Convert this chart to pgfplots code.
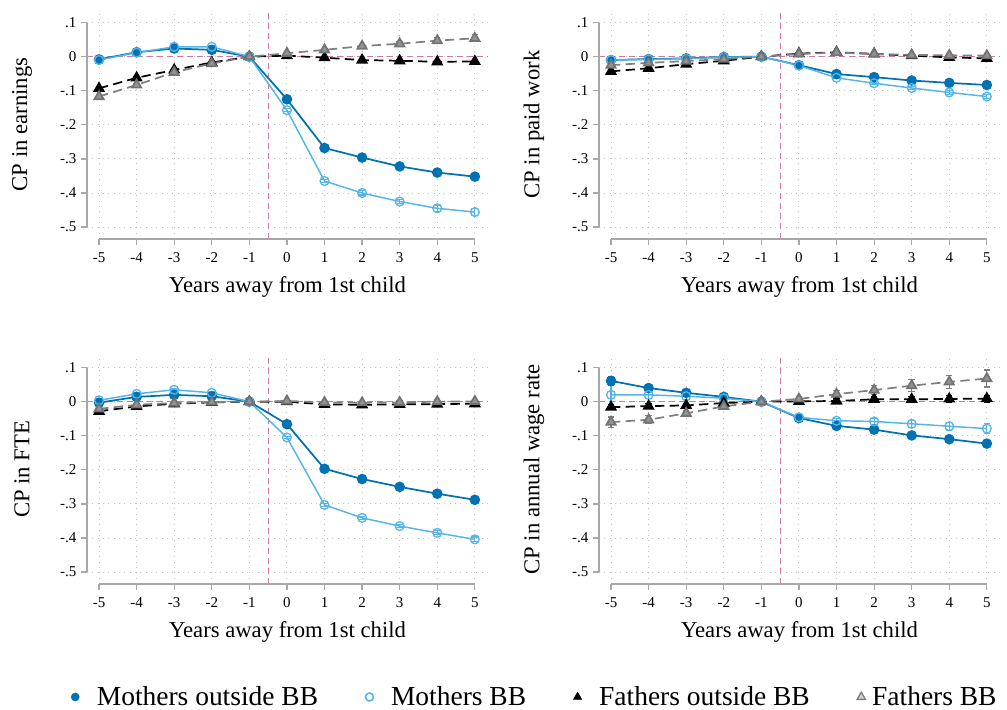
\documentclass[border=0pt]{standalone}
\usepackage{fontspec}
\setmainfont{Liberation Serif}
\usepackage{pgfplots}
\usepackage{pgfplotstable}
\pgfplotsset{compat=1.18}

\definecolor{mdark}{HTML}{0072B2}
\definecolor{mlight}{HTML}{56B4E9}
\definecolor{fgray}{HTML}{808080}
\definecolor{refpink}{HTML}{CC79A7}
\definecolor{spinegray}{HTML}{A8A8A8}
\definecolor{gridgray}{HTML}{C4C4C4}

% columns: mothers outside BB, mothers BB, fathers outside BB, fathers BB (value, CI half-width)
\pgfplotstableread{
x  mo     moe   mb     mbe   fo     foe   fb     fbe
-5 -0.008 0.006 -0.010 0.010 -0.093 0.005 -0.117 0.006
-4  0.013 0.004  0.012 0.006 -0.062 0.004 -0.083 0.005
-3  0.024 0.004  0.029 0.005 -0.039 0.004 -0.046 0.004
-2  0.020 0.003  0.029 0.004 -0.017 0.003 -0.020 0.003
-1  0     0      0     0      0     0      0     0
 0 -0.125 0.003 -0.157 0.004  0.003 0.003  0.010 0.004
 1 -0.268 0.004 -0.365 0.005 -0.003 0.003  0.020 0.005
 2 -0.296 0.004 -0.400 0.006 -0.010 0.004  0.031 0.006
 3 -0.322 0.005 -0.425 0.007 -0.012 0.004  0.038 0.007
 4 -0.340 0.005 -0.445 0.008 -0.015 0.005  0.047 0.008
 5 -0.352 0.006 -0.456 0.010 -0.014 0.005  0.054 0.010
}\earnings

\pgfplotstableread{
x  mo     moe   mb     mbe   fo     foe   fb     fbe
-5 -0.010 0.002 -0.010 0.003 -0.043 0.003 -0.025 0.004
-4 -0.007 0.002 -0.008 0.003 -0.034 0.003 -0.018 0.003
-3 -0.005 0.002 -0.006 0.002 -0.022 0.002 -0.013 0.003
-2 -0.001 0.002 -0.002 0.002 -0.012 0.002 -0.007 0.002
-1  0     0      0     0      0     0      0     0
 0 -0.025 0.002 -0.026 0.003  0.009 0.002  0.008 0.003
 1 -0.051 0.002 -0.062 0.003  0.013 0.002  0.012 0.003
 2 -0.060 0.002 -0.078 0.003  0.008 0.002  0.008 0.003
 3 -0.070 0.003 -0.092 0.004  0.003 0.003  0.005 0.004
 4 -0.077 0.003 -0.105 0.005 -0.002 0.003  0.004 0.004
 5 -0.083 0.003 -0.117 0.005 -0.005 0.003  0.003 0.004
}\paidwork

\pgfplotstableread{
x  mo     moe   mb     mbe   fo     foe   fb     fbe
-5 -0.003 0.004  0.004 0.006 -0.028 0.003 -0.021 0.004
-4  0.014 0.003  0.023 0.005 -0.014 0.003 -0.009 0.003
-3  0.020 0.003  0.035 0.004 -0.006 0.002 -0.004 0.003
-2  0.016 0.002  0.026 0.003 -0.002 0.002 -0.001 0.002
-1  0     0      0     0      0     0      0     0
 0 -0.066 0.002 -0.105 0.003  0.000 0.002  0.002 0.003
 1 -0.197 0.003 -0.303 0.004 -0.008 0.002 -0.002 0.003
 2 -0.227 0.003 -0.341 0.005 -0.009 0.003 -0.003 0.004
 3 -0.250 0.004 -0.365 0.005 -0.008 0.003 -0.002 0.004
 4 -0.270 0.004 -0.385 0.006 -0.007 0.003  0.000 0.005
 5 -0.288 0.004 -0.404 0.007 -0.006 0.004  0.001 0.005
}\fte

\pgfplotstableread{
x  mo     moe   mb     mbe   fo     foe   fb     fbe
-5  0.061 0.012  0.020 0.030 -0.016 0.008 -0.060 0.015
-4  0.040 0.008  0.020 0.012 -0.013 0.007 -0.053 0.012
-3  0.026 0.006  0.016 0.009 -0.011 0.006 -0.034 0.009
-2  0.014 0.005  0.010 0.007 -0.004 0.005 -0.014 0.007
-1  0     0      0     0      0     0      0     0
 0 -0.048 0.004 -0.046 0.006  0.001 0.004  0.008 0.007
 1 -0.071 0.005 -0.056 0.008  0.002 0.006  0.022 0.010
 2 -0.082 0.006 -0.058 0.009  0.007 0.007  0.034 0.013
 3 -0.099 0.006 -0.065 0.010  0.007 0.008  0.047 0.017
 4 -0.110 0.007 -0.072 0.012  0.008 0.009  0.058 0.020
 5 -0.123 0.008 -0.079 0.015  0.009 0.010  0.068 0.025
}\wage

\pgfplotsset{
  panel/.style={
    scale only axis, width=300.75pt, height=171.75pt, anchor=south west,
    xmin=-5.32, xmax=5.35, ymin=-0.535, ymax=0.137,
    xtick={-5,-4,-3,-2,-1,0,1,2,3,4,5},
    xticklabels={\textrm{-5},\textrm{-4},\textrm{-3},\textrm{-2},\textrm{-1},\textrm{0},
      \textrm{1},\textrm{2},\textrm{3},\textrm{4},\textrm{5}},
    ytick={-0.5,-0.4,-0.3,-0.2,-0.1,0,0.1},
    yticklabels={\textrm{-.5},\textrm{-.4},\textrm{-.3},\textrm{-.2},\textrm{-.1},\textrm{0},\textrm{.1}},
    xtick pos=bottom, ytick pos=left, tick align=outside,
    major tick length=4.5pt,
    tick style={spinegray, line width=0.9pt},
    axis line style={draw=none},
    grid=major,
    major grid style={gridgray, line width=0.7pt, dash pattern=on 0.7pt off 3.3pt},
    tick label style={font=\fontsize{11.25}{13}\selectfont},
    xticklabel style={yshift=-2pt},
    xlabel={Years away from 1st child},
    every axis x label/.style={at={(axis description cs:0.5,0)}, anchor=base,
      yshift=-40.5pt, font=\fontsize{17}{20}\selectfont},
    every axis y label/.style={at={(axis description cs:-0.1621,0.5)}, rotate=90,
      anchor=center, font=\fontsize{17}{20}\selectfont},
    clip=false,
  },
  refline/.style={refpink, line width=0.8pt, dash pattern=on 4.5pt off 3pt, forget plot},
  ebar/.style={error bars/y dir=both, error bars/y explicit,
    error bars/error bar style={#1, line width=0.8pt, solid},
    error bars/error mark options={rotate=90, #1, mark size=2.4pt, line width=0.8pt, solid}},
  mo/.style={mdark, line width=1.3pt, mark=*, mark size=3.3pt, mark options={solid}, ebar=mdark},
  mb/.style={mlight, line width=1.1pt, mark=o, mark size=3.3pt, mark options={solid, line width=1pt}, ebar=mlight},
  fo/.style={black, line width=1.3pt, dash pattern=on 7pt off 4pt, mark=triangle*, mark size=4pt,
    mark options={solid}, ebar=black},
  fb/.style={fgray, line width=1.3pt, dash pattern=on 7pt off 4pt, mark=triangle*, mark size=4pt,
    mark options={solid, fill=fgray!85, draw=fgray!90!black}, ebar=fgray},
  longlegend/.style={legend image code/.code={\draw[##1] plot coordinates {(0pt,0pt)}; \path (14pt,0pt);}},
  shortlegend/.style={legend image code/.code={\draw[##1] plot coordinates {(0pt,0pt)}; \path (6pt,0pt);}},
}

\newcommand{\panel}[3]{%
\begin{axis}[panel, at={(#1)}, ylabel={#3}]
  \addplot[refline] coordinates {(-5.32,0) (5.35,0)};
  \addplot[refline] coordinates {(-0.5,-0.535) (-0.5,0.137)};
  \addplot[mo] table[x=x, y=mo, y error=moe] {#2};
  \addplot[mb] table[x=x, y=mb, y error=mbe] {#2};
  \addplot[fo] table[x=x, y=fo, y error=foe] {#2};
  \addplot[fb] table[x=x, y=fb, y error=fbe] {#2};
  \draw[spinegray, line width=1.1pt] (axis cs:-5.32,-0.5) -- (axis cs:-5.32,0.1);
  \draw[spinegray, line width=1.1pt] (axis cs:-5,-0.535) -- (axis cs:5,-0.535);
\end{axis}}

\begin{document}
\begin{tikzpicture}
\path[use as bounding box] (0,0) rectangle (755.25pt,532.5pt);

\panel{65.25pt,353.25pt}{\earnings}{CP in earnings}
\panel{449.25pt,353.25pt}{\paidwork}{CP in paid work}
\panel{65.25pt,94.5pt}{\fte}{CP in FTE}
\panel{449.25pt,94.5pt}{\wage}{CP in annual wage rate}

\begin{axis}[at={(50.25pt,9.75pt)}, anchor=south west, hide axis, scale only axis,
  width=10pt, height=10pt, xmin=0, xmax=1, ymin=0, ymax=1,
  legend columns=4,
  legend style={at={(0,0)}, anchor=west, draw=none, fill=none,
    font=\fontsize{20.6}{24}\selectfont,
    /tikz/every even column/.append style={column sep=33.5pt}}]
  \addlegendimage{only marks, mark=*, mdark, mark size=3pt, longlegend}
  \addlegendentry{Mothers outside BB}
  \addlegendimage{only marks, mark=o, mlight, mark size=3pt, mark options={line width=1.2pt}, longlegend}
  \addlegendentry{Mothers BB}
  \addlegendimage{only marks, mark=triangle*, black, mark size=3.6pt, longlegend}
  \addlegendentry{Fathers outside BB}
  \addlegendimage{only marks, mark=triangle*, mark size=3.6pt, mark options={draw=fgray, fill=fgray!35, line width=1pt}, shortlegend}
  \addlegendentry{Fathers BB}
\end{axis}
\end{tikzpicture}
\end{document}
